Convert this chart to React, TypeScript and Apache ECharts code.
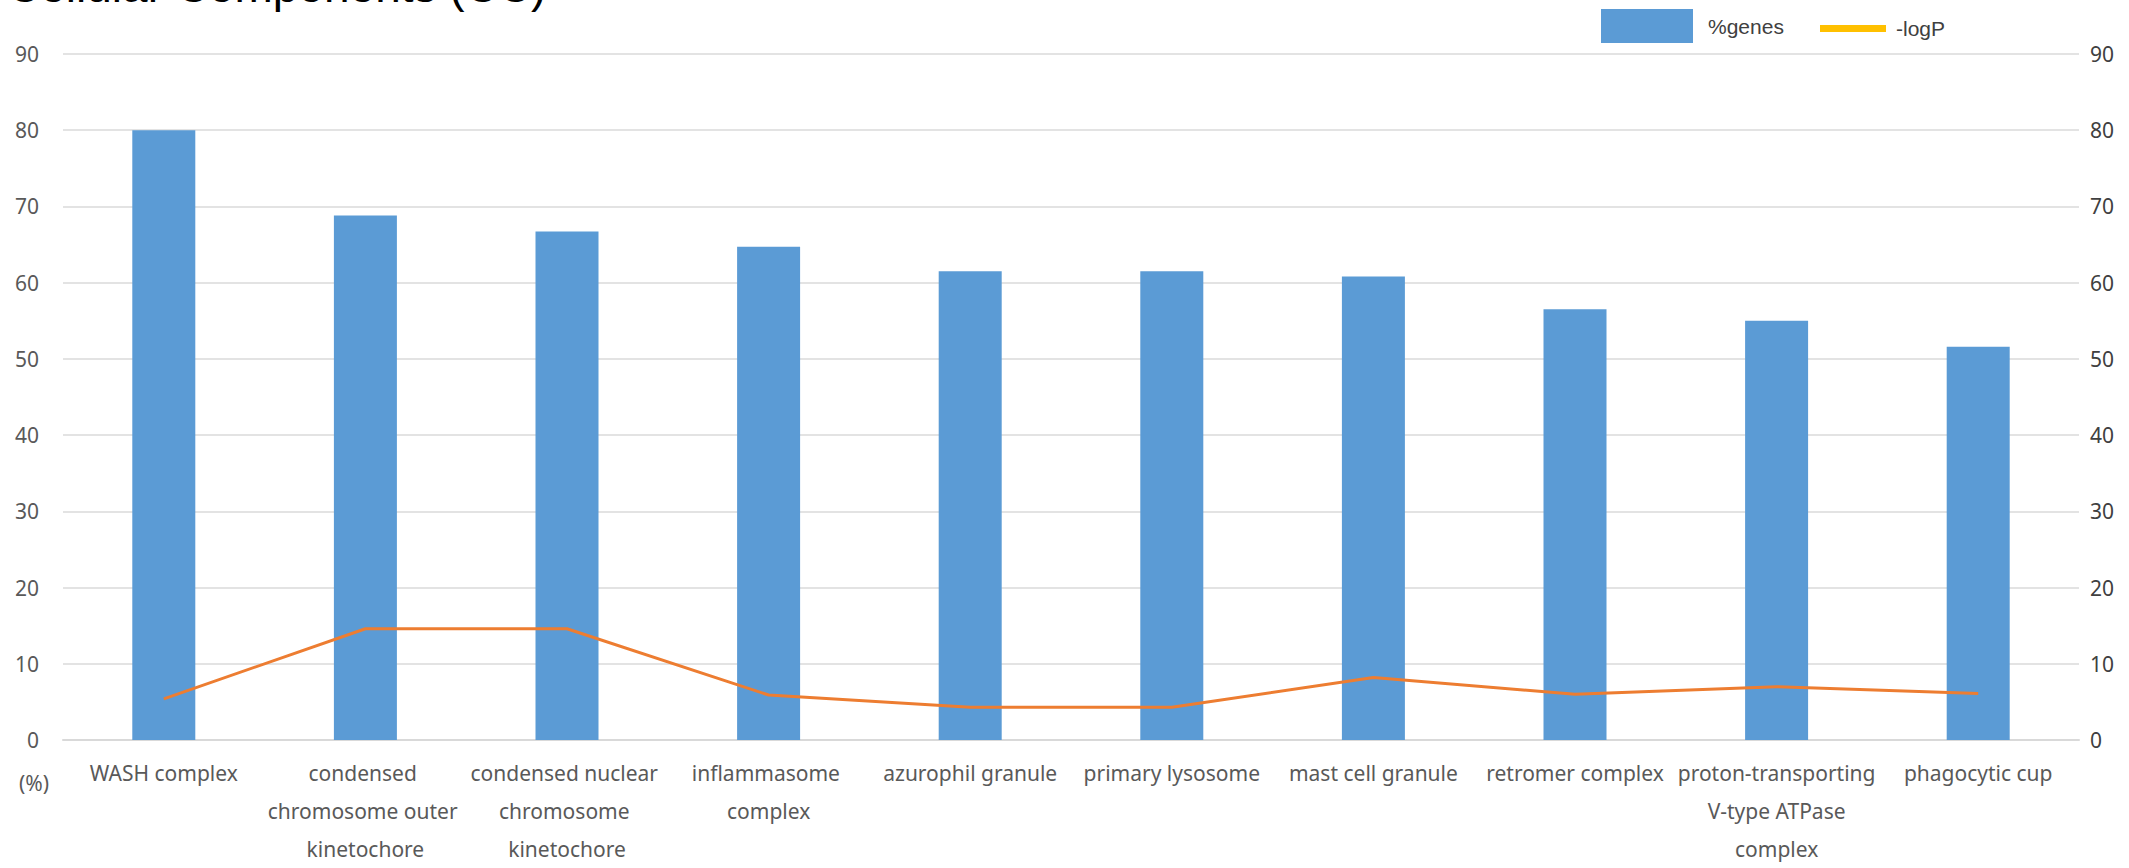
import React, { useEffect, useRef } from "react";
import * as echarts from "echarts";

const categories = [
  "WASH complex",
  "condensed chromosome outer kinetochore",
  "condensed nuclear chromosome kinetochore",
  "inflammasome complex",
  "azurophil granule",
  "primary lysosome",
  "mast cell granule",
  "retromer complex",
  "proton-transporting V-type ATPase complex",
  "phagocytic cup",
];

const pctGenes = [80.0, 68.8, 66.7, 64.7, 61.5, 61.5, 60.8, 56.5, 55.0, 51.6];
const negLogP = [5.4, 14.6, 14.6, 5.9, 4.3, 4.3, 8.2, 6.0, 7.0, 6.1];

const axisTicks = [0, 10, 20, 30, 40, 50, 60, 70, 80, 90];

const TITLE = "Cellular Components (CC)";
const UNIT = "(%)";

export default function App() {
  const ref = useRef<HTMLDivElement>(null);

  useEffect(() => {
    if (!ref.current) return;
    const chart = echarts.init(ref.current, null, { renderer: "svg" });
    const yMin = axisTicks[0];
    const yMax = axisTicks[axisTicks.length - 1];
    const yInt = axisTicks[1] - axisTicks[0];
    const labelFont = '"Noto Sans", "Open Sans", sans-serif';
    chart.setOption({
      animation: false,
      backgroundColor: "#ffffff",
      grid: { left: 63, right: 50, top: 54, bottom: 125, containLabel: false },
      graphic: [
        {
          type: "text",
          x: 7,
          y: -14,
          style: {
            text: TITLE,
            font: '46px "Liberation Sans", Arial, sans-serif',
            fill: "#000000",
            align: "left",
            verticalAlign: "middle",
          },
        },
        {
          type: "text",
          x: 34,
          y: 783,
          style: {
            text: UNIT,
            font: '21px "Noto Sans", sans-serif',
            fill: "#595959",
            align: "center",
            verticalAlign: "middle",
          },
        },
      ],
      legend: [
        {
          data: [{ name: "%genes", icon: "rect" }],
          left: 1601,
          top: 9,
          itemWidth: 92,
          itemHeight: 34,
          padding: 0,
          textStyle: {
            fontSize: 21,
            fontFamily: '"Liberation Sans", Arial, sans-serif',
            color: "#404040",
            padding: [0, 0, 0, 10],
          },
        },
        {
          data: [{ name: "-logP", icon: "rect", itemStyle: { color: "#FFC000" } }],
          left: 1820,
          top: 18,
          itemWidth: 66,
          itemHeight: 7,
          padding: 0,
          textStyle: {
            fontSize: 21,
            fontFamily: '"Liberation Sans", Arial, sans-serif',
            color: "#404040",
            padding: [0, 0, 0, 5],
          },
        },
      ],
      xAxis: {
        type: "category",
        data: categories,
        axisTick: { show: false },
        axisLine: { show: true, lineStyle: { color: "#D9D9D9", width: 2 } },
        axisLabel: {
          interval: 0,
          width: 200,
          overflow: "break",
          lineHeight: 38,
          margin: 14,
          fontSize: 21,
          fontFamily: labelFont,
          color: "#595959",
        },
      },
      yAxis: [
        {
          type: "value",
          min: yMin,
          max: yMax,
          interval: yInt,
          axisLine: { show: false },
          axisTick: { show: false },
          splitLine: { show: true, lineStyle: { color: "#E3E3E3", width: 2 } },
          axisLabel: { margin: 24, fontSize: 21, fontFamily: labelFont, color: "#595959" },
        },
        {
          type: "value",
          min: yMin,
          max: yMax,
          interval: yInt,
          position: "right",
          axisLine: { show: false },
          axisTick: { show: false },
          splitLine: { show: false },
          axisLabel: { margin: 11, fontSize: 21, fontFamily: labelFont, color: "#404040" },
        },
      ],
      series: [
        {
          name: "%genes",
          type: "bar",
          yAxisIndex: 0,
          data: pctGenes,
          barWidth: 63,
          itemStyle: { color: "#5B9BD5" },
        },
        {
          name: "-logP",
          type: "line",
          yAxisIndex: 1,
          data: negLogP,
          symbol: "none",
          lineStyle: { color: "#ED7D31", width: 3 },
          itemStyle: { color: "#ED7D31" },
        },
      ],
    });
    return () => chart.dispose();
  }, []);

  return (
    <div
      ref={ref}
      style={{ position: "fixed", left: 0, top: 0, width: 2129, height: 868, background: "#fff" }}
    />
  );
}
